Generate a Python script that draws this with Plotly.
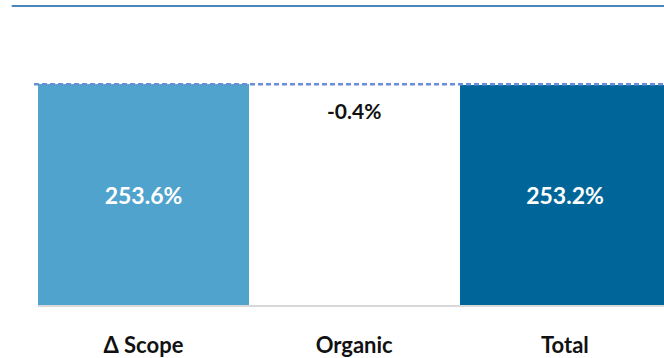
import plotly.graph_objects as go

# Bridge chart: scope effect, organic change and resulting total
categories = ["Δ Scope", "Organic", "Total"]
changes = [253.6, -0.4, 253.2]
bar_colors = ["#50A3CC", "#FFFFFF", "#006699"]

# Waterfall bases: first step starts at zero, middle step floats, total from zero
scope, organic, total = changes
bases = [0, scope + organic, 0]
heights = [scope, -organic, total]

inside_text = [f"{scope:.1f}%", "", f"{total:.1f}%"]

FONT = "Lato, 'Open Sans', sans-serif"

fig = go.Figure()
fig.add_trace(go.Bar(
    x=categories,
    y=heights,
    base=bases,
    marker=dict(color=bar_colors, line=dict(width=0)),
    text=inside_text,
    textposition="inside",
    insidetextanchor="middle",
    textfont=dict(family=FONT, size=23, color="white", weight="bold"),
    hoverinfo="skip",
    showlegend=False,
))

# Organic change label sits just below the running level
fig.add_annotation(
    x=categories[1], y=scope + organic,
    text=f"{organic:.1f}%",
    showarrow=False, yanchor="top", yshift=-11,
    font=dict(family=FONT, size=21, color="#111111", weight="bold"),
)

# Dashed connector at the scope level
fig.add_shape(
    type="line", xref="paper", yref="y",
    x0=-0.0064, x1=1, y0=scope, y1=scope,
    line=dict(color="#6A8FD8", width=2.5, dash="5px,3px"),
    layer="above",
)

# Thin rule across the top of the chart
fig.add_shape(
    type="line", xref="paper", yref="paper",
    x0=-0.042, x1=1, y0=1, y1=1,
    line=dict(color="#4A86B8", width=2),
)

fig.update_layout(
    width=664, height=358,
    margin=dict(l=38, r=0, t=6, b=46),
    paper_bgcolor="white", plot_bgcolor="white",
    bargap=0,
    font=dict(family=FONT),
)
fig.update_xaxes(
    range=[-0.5, 2.47],
    showline=True, linecolor="#D9D9D9", linewidth=2,
    ticks="", ticklabelstandoff=20,
    tickfont=dict(family=FONT, size=22, color="#111111", weight="bold"),
    showgrid=False, zeroline=False, fixedrange=True,
)
fig.update_yaxes(
    range=[0, 343.4], visible=False,
    showgrid=False, zeroline=False, fixedrange=True,
)

fig.write_html("out.html")
